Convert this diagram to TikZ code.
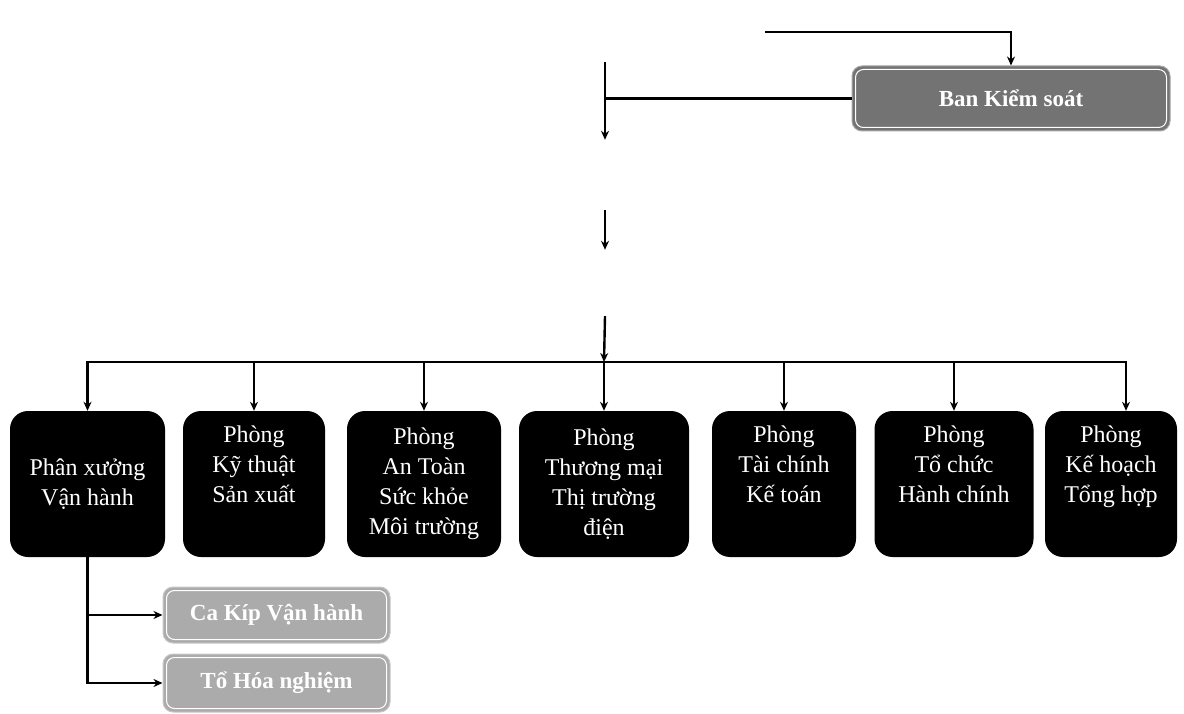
\documentclass[tikz,border=0pt]{standalone}
\usepackage{fontspec}
\setmainfont{Liberation Serif}
\usetikzlibrary{positioning,arrows.meta}

\begin{document}
\begin{tikzpicture}[
    x=1pt, y=-1pt,
    font=\fontsize{24}{30}\selectfont,
    hidden/.style={rectangle, inner sep=0pt},
    dept/.style={rectangle, rounded corners=18pt, fill=black, text=white, align=center, minimum height=146pt, inner sep=0pt},
    grey/.style={rectangle, rounded corners=10pt, fill=black!55, draw=black!35, line width=1pt, text=white, inner sep=0pt},
    team/.style={rectangle, rounded corners=10pt, fill=black!33, draw=black!22, line width=1pt, text=white, inner sep=0pt},
    rim/.style={draw=white, line width=1pt, rounded corners=8pt},
    msg/.style={line width=2.4pt, ->, >={Stealth[length=9pt,width=8pt]}},
    plain/.style={line width=2.4pt}
]
\useasboundingbox (0,0) rectangle (1184,714);

% Top levels
\node[hidden, minimum width=320pt, minimum height=60pt] (dhd) at (605, 32) {};
\node[hidden, minimum width=300pt, minimum height=70pt] (hdq) at (605, 175) {};
\node[hidden, minimum width=300pt, minimum height=66pt] (gd) at (605, 283) {};
\node[grey, minimum width=318pt, minimum height=65pt, font=\fontsize{23}{26}\selectfont\bfseries] (bks) at (1011, 98.5) {Ban Kiểm soát};
\draw[rim] ([shift={(4,4)}]bks.north west) rectangle ([shift={(-4,-4)}]bks.south east);

% Departments
\node[dept, minimum width=155pt] (p1) at (87.5, 484) {Phân xưởng\\Vận hành};
\node[dept, minimum width=142pt] (p2) at (254, 484) {Phòng\\Kỹ thuật\\Sản xuất\\\strut};
\node[dept, minimum width=154pt] (p3) at (424, 484) {Phòng\\An Toàn\\Sức khỏe\\Môi trường};
\node[dept, minimum width=170pt] (p4) at (604, 484) {Phòng\\Thương mại\\Thị trường\\điện};
\node[dept, minimum width=144pt] (p5) at (784, 484) {Phòng\\Tài chính\\Kế toán\\\strut};
\node[dept, minimum width=159pt] (p6) at (954, 484) {Phòng\\Tổ chức\\Hành chính\\\strut};
\node[dept, minimum width=132pt] (p7) at (1111, 484) {Phòng\\Kế hoạch\\Tổng hợp\\\strut};

% Teams
\node[team, minimum width=227pt, minimum height=56pt, font=\fontsize{23}{26}\selectfont\bfseries] (kip) at (276.5, 615) {Ca Kíp Vận hành};
\node[team, minimum width=227pt, minimum height=58pt, font=\fontsize{23}{26}\selectfont\bfseries] (hoa) at (276.5, 683) {Tổ Hóa nghiệm};
\draw[rim] ([shift={(4,4)}]kip.north west) rectangle ([shift={(-4,-4)}]kip.south east);
\draw[rim] ([shift={(4,4)}]hoa.north west) rectangle ([shift={(-4,-4)}]hoa.south east);

% Connectors
\coordinate (bus) at (604, 362);
\draw[msg] (dhd.east) -| (bks.north);
\draw[msg] (dhd.south) -- (hdq.north);
\draw[plain] (bks.west) -- (bks.west -| dhd.south);
\draw[msg] (hdq.south) -- (gd.north);
\draw[msg] (gd.south) -- (bus);

\draw[msg] (bus) -| (p1.north);
\draw[msg] (bus) -| (p2.north);
\draw[msg] (bus) -| (p3.north);
\draw[msg] (bus) -- (p4.north);
\draw[msg] (bus) -| (p5.north);
\draw[msg] (bus) -| (p6.north);
\draw[msg] (bus) -| ([xshift=15pt]p7.north);

\draw[msg] (p1.south) |- (kip.west);
\draw[msg] (p1.south) |- (hoa.west);

\end{tikzpicture}
\end{document}
